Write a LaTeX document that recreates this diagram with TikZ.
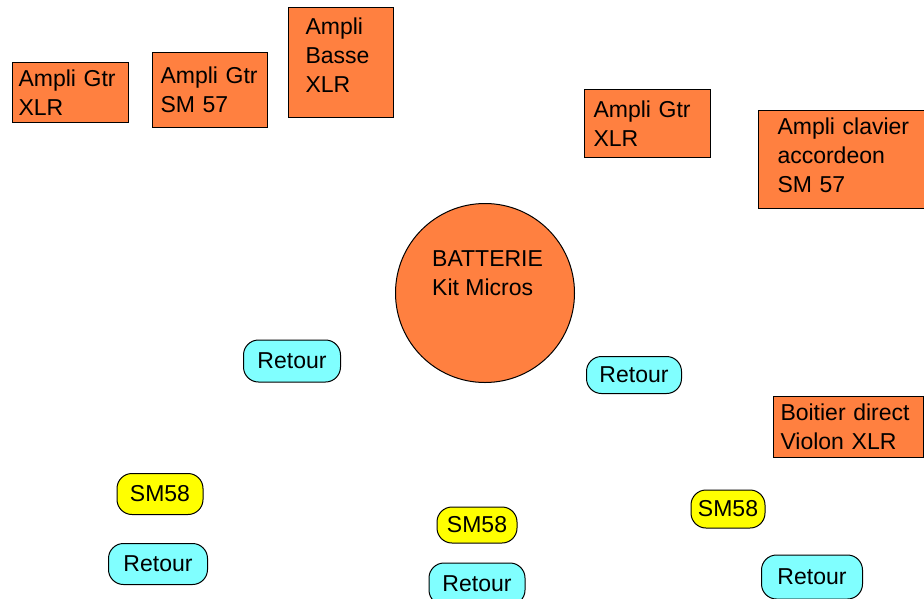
\documentclass[tikz,border=0pt]{standalone}
\usepackage{fontspec}
\setmainfont{Liberation Sans}
\usepackage{tikz}
\definecolor{amporange}{RGB}{255,128,64}
\definecolor{retcyan}{RGB}{128,255,255}
\definecolor{micyellow}{RGB}{255,255,0}
\newcommand{\stagefont}{\fontsize{23}{29}\selectfont}
\tikzset{
    ampbox/.style={draw=black, line width=1pt, fill=amporange, anchor=north west,
        align=left, inner ysep=0pt, font=\stagefont},
    pill/.style={draw=black, line width=1pt, rounded corners=15pt, inner sep=0pt,
        font=\stagefont},
    retour/.style={pill, fill=retcyan},
    micro/.style={pill, fill=micyellow}
}

\begin{document}
\begin{tikzpicture}[x=1pt, y=-1pt]
    \clip (0,0) rectangle (924,598);

    % Draw amps
    \node[ampbox, inner xsep=6pt, text width=104pt, minimum height=60pt] (gtra) at (12,62) {Ampli~Gtr\\XLR};
    \node[ampbox, inner xsep=8pt, text width=99pt, minimum height=75pt] (gtrb) at (152,52) {Ampli~Gtr\\SM~57};
    \node[ampbox, inner xsep=17pt, text width=71pt, minimum height=110pt, text depth=72pt] (basse) at (288,7) {Ampli\\Basse\\XLR};
    \node[ampbox, inner xsep=9pt, text width=108pt, minimum height=68pt] (gtrc) at (584,89) {Ampli~Gtr\\XLR};
    \node[ampbox, inner xsep=19pt, text width=162pt, minimum height=98pt, text depth=66pt] (clavier) at (758,110) {Ampli~clavier\\accordeon\\SM~57};
    \node[ampbox, inner xsep=7pt, text width=136pt, minimum height=61pt] (violon) at (773,396) {Boitier~direct\\Violon~XLR};

    % Draw drums
    \node[circle, draw=black, line width=1pt, fill=amporange, minimum size=179pt] (batterie) at (485,293) {};
    \node[anchor=north west, align=left, inner sep=0pt, font=\stagefont] (batttxt) at (432,250) {BATTERIE\\Kit~Micros};

    % Draw monitors and mics
    \node[retour, minimum width=97pt, minimum height=42pt] (reta) at (292,361) {Retour};
    \node[retour, minimum width=95pt, minimum height=37pt] (retb) at (634,375) {Retour};
    \node[micro, minimum width=86pt, minimum height=41pt] (sma) at (160,494) {SM58};
    \node[retour, minimum width=99pt, minimum height=41pt] (retc) at (158,564) {Retour};
    \node[micro, minimum width=80pt, minimum height=36pt] (smb) at (477,525) {SM58};
    \node[retour, minimum width=96pt, minimum height=42pt] (retd) at (477,584) {Retour};
    \node[micro, minimum width=74pt, minimum height=38pt] (smc) at (728,509) {SM58};
    \node[retour, minimum width=101pt, minimum height=44pt] (rete) at (812,577) {Retour};
\end{tikzpicture}
\end{document}
